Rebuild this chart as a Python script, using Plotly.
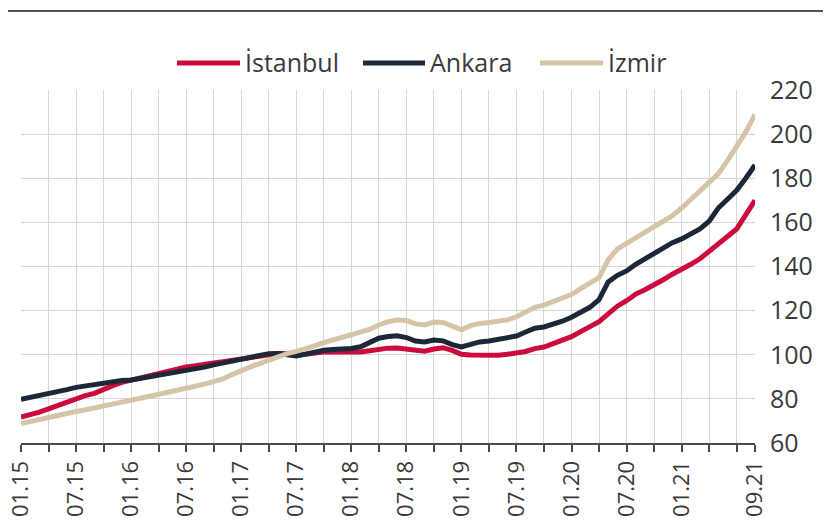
import plotly.graph_objects as go
import pandas as pd

months = [d.strftime("%m.%y") for d in pd.date_range("2015-01-01", "2021-09-01", freq="MS")]

istanbul = [71.8, 72.8, 74.0, 75.5, 77.0, 78.5, 80.3, 81.5, 82.5, 84.5,
            86.0, 87.5, 88.5, 89.5, 90.5, 91.3, 92.5, 93.7, 94.5, 95.0,
            95.8, 96.3, 96.8, 97.5, 98.3, 99.0, 99.6, 100.0, 100.6, 100.5,
            99.8, 100.2, 100.8, 101.2, 101.4, 101.3, 101.2, 101.3, 101.8, 102.6,
            103.0, 103.1, 102.7, 101.8, 101.6, 102.6, 103.2, 102.0, 100.2, 99.9,
            99.8, 99.8, 99.8, 100.2, 100.6, 101.5, 102.8, 103.5, 105.0, 106.5,
            108.2, 110.5, 112.5, 115.0, 118.5, 122.0, 124.5, 127.5, 129.5, 131.5,
            134.0, 136.5, 138.5, 141.0, 143.5, 147.0, 150.5, 154.0, 157.0, 163.5,
            170.0]
ankara = [79.8, 80.6, 81.4, 82.3, 83.2, 84.2, 85.2, 85.8, 86.5, 87.5,
          88.0, 88.3, 88.6, 89.3, 90.0, 90.8, 91.5, 92.0, 92.6, 93.5,
          94.4, 95.4, 96.3, 97.2, 98.2, 99.0, 99.8, 100.5, 100.6, 100.0,
          99.5, 100.3, 101.4, 102.0, 102.4, 102.6, 102.8, 103.6, 105.5, 107.5,
          108.3, 108.6, 107.8, 106.2, 105.8, 106.7, 106.3, 104.6, 103.6, 104.8,
          105.8, 106.2, 106.8, 107.5, 108.5, 110.3, 112.0, 112.6, 113.8, 115.2,
          117.0, 119.5, 121.5, 125.0, 133.0, 136.0, 138.0, 141.0, 143.5, 146.0,
          148.5, 150.8, 152.5, 154.5, 157.0, 160.5, 166.5, 170.5, 174.5, 180.0,
          186.0]
izmir = [68.8, 69.8, 70.8, 71.8, 72.8, 73.6, 74.3, 75.0, 75.8, 76.6,
         77.6, 78.5, 79.4, 80.3, 81.2, 82.0, 83.0, 83.8, 84.7, 85.7,
         86.7, 87.7, 89.0, 91.0, 93.0, 94.5, 96.0, 97.5, 99.3, 100.5,
         101.5, 102.6, 104.0, 105.5, 106.7, 108.0, 109.2, 110.3, 111.5, 113.5,
         115.0, 115.7, 115.5, 114.0, 113.5, 114.8, 114.6, 113.0, 111.3, 113.2,
         114.2, 114.6, 115.0, 115.8, 117.2, 119.5, 121.5, 122.5, 124.0, 125.5,
         127.3, 130.0, 132.5, 135.0, 143.0, 148.0, 150.5, 153.0, 155.5, 158.0,
         160.5, 163.0, 166.5, 170.5, 174.0, 178.0, 182.0, 188.0, 194.0, 201.0,
         209.0]

series_names = ["İstanbul", "Ankara", "İzmir"]
series_colors = ["#cc0a3c", "#1c2838", "#d6c4a8"]
labelled = ["01.15", "07.15", "01.16", "07.16", "01.17", "07.17", "01.18",
            "07.18", "01.19", "07.19", "01.20", "07.20", "01.21", "09.21"]

# page body has an 8px margin; figure is sized so the plot lands where the reference has it
OFF = 8
W, H = 831 - OFF, 527 - OFF
L, R, T, B = 21 - OFF, 76, 90 - OFF, 84
pw, ph = W - L - R, H - T - B

def px(x):  # window pixel -> paper x
    return (x - OFF - L) / pw

def py(y):  # window pixel -> paper y
    return (H - B - (y - OFF)) / ph

fig = go.Figure()
for name, vals, col in zip(series_names, [istanbul, ankara, izmir], series_colors):
    fig.add_trace(go.Scatter(x=months, y=vals, mode="lines", name=name,
                             line=dict(color=col, width=5), showlegend=False))

# ticks every 3 months, labels only on selected ones
tickvals = months[::3] + [months[-1]]
ticktext = [m if m in labelled else "" for m in tickvals]

fig.update_layout(
    width=W, height=H,
    margin=dict(l=L, r=R, t=T, b=B, pad=0, autoexpand=False),
    paper_bgcolor="white", plot_bgcolor="white",
    font=dict(family="Open Sans", color="#3a3a3a"),
    xaxis=dict(type="category", range=[0, len(months) - 1], automargin=False,
               tickmode="array", tickvals=tickvals, ticktext=ticktext,
               tickangle=-90, tickfont=dict(size=22, color="#3a3a3a"),
               showgrid=True, gridcolor="#d6d6d6", gridwidth=1,
               showline=True, linecolor="#4a4a4a", linewidth=2,
               ticks="outside", ticklen=7, tickwidth=2, tickcolor="#4a4a4a"),
    yaxis=dict(side="right", range=[60, 220], dtick=20, tick0=60, automargin=False,
               showgrid=True, gridcolor="#d6d6d6", gridwidth=1,
               zeroline=False, showline=False, ticks="",
               tickfont=dict(size=25, color="#3a3a3a"), ticklabelstandoff=14),
)

# header rule at top
fig.add_shape(type="line", xref="paper", yref="paper",
              x0=px(OFF), x1=px(831), y0=py(11), y1=py(11),
              line=dict(color="#555555", width=2))

# manual legend
leg = [(177, 240, 243), (363, 425, 428), (540, 603, 606)]
for (x0, x1, tx), name, col in zip(leg, series_names, series_colors):
    fig.add_shape(type="line", xref="paper", yref="paper",
                  x0=px(x0), x1=px(x1), y0=py(63), y1=py(63),
                  line=dict(color=col, width=5))
    fig.add_annotation(xref="paper", yref="paper", x=px(tx), y=py(62),
                       text=name, showarrow=False, xanchor="left", yanchor="middle",
                       font=dict(size=25, color="#3a3a3a", family="Open Sans"))

fig.write_html("out.html")
